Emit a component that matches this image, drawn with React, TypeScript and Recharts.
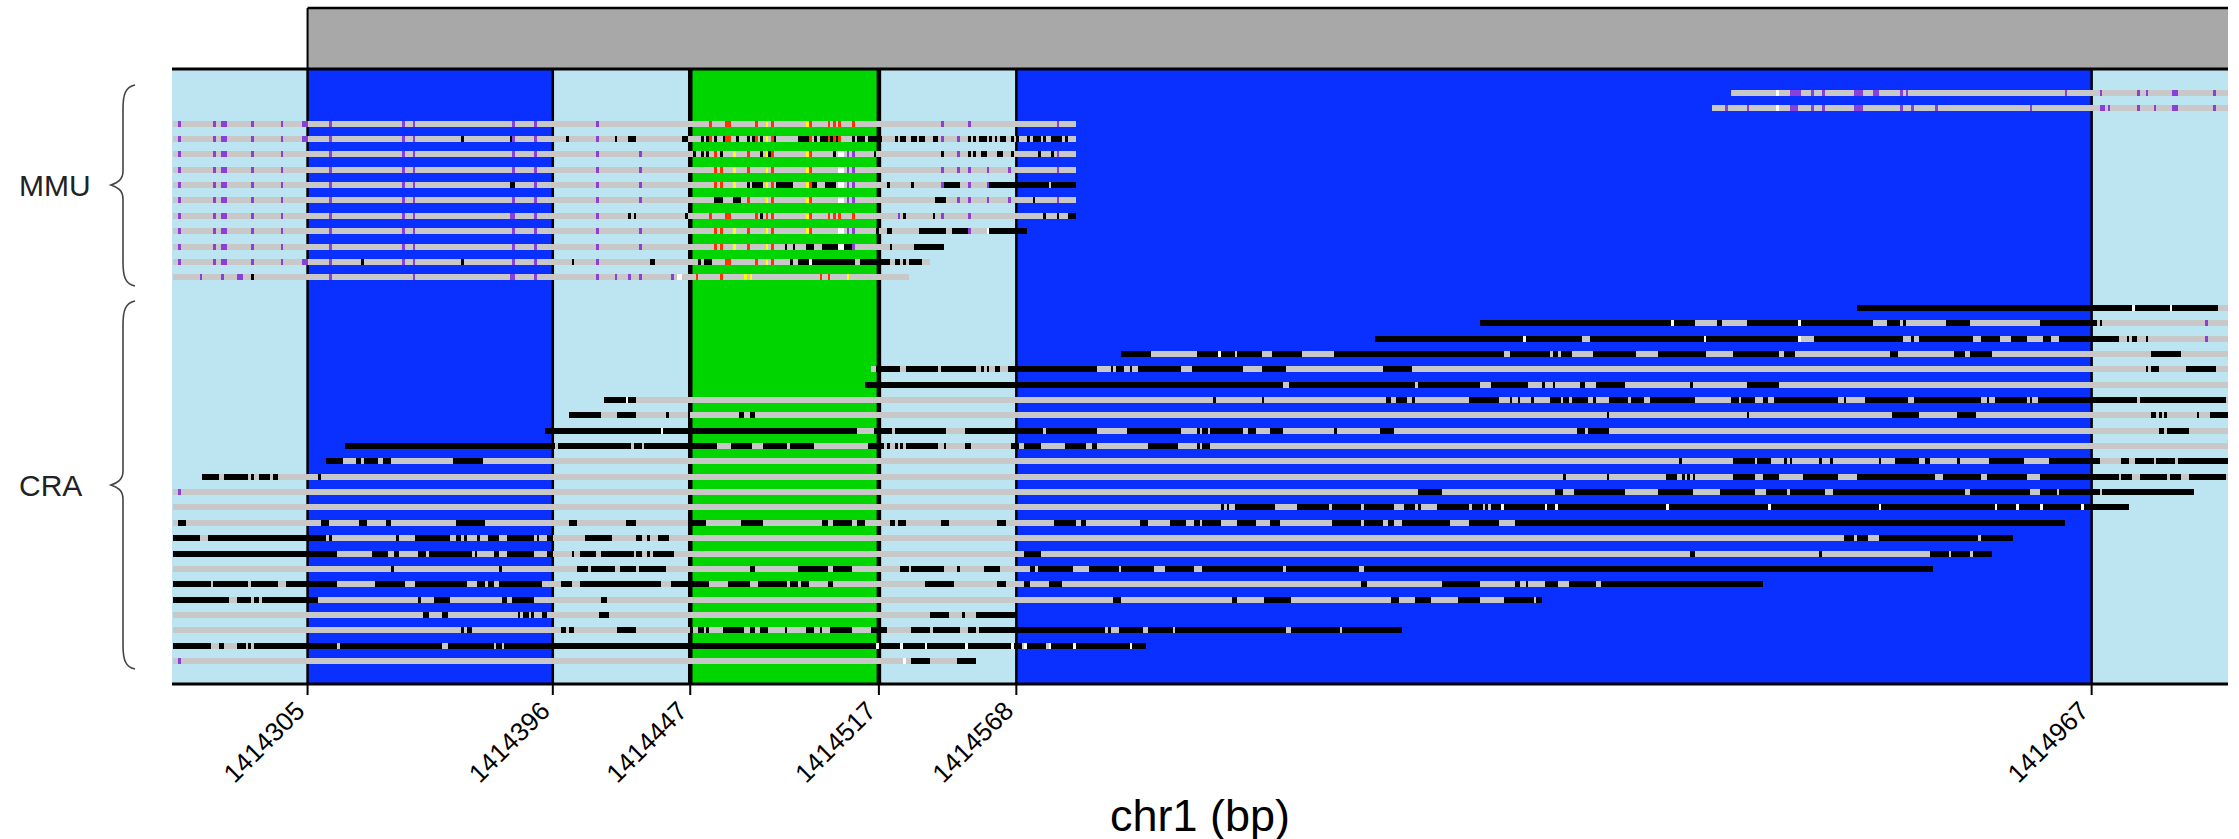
import { ComposedChart, Line, XAxis, YAxis, ReferenceArea, ReferenceLine } from 'recharts';

// genome window, in bp; read data below is offset from CHROM_BASE
const CHROM_BASE = 1414255;
const X_DOMAIN = [1414254.7, 1415017.6];
const Y_DOMAIN = [-5.54, 38.5];
const FLANK_TOP = -1.56;

const exonTicks = [1414305, 1414396, 1414447, 1414517, 1414568, 1414967];
const exonLineWidths = [2.5, 2.5, 4.5, 4.5, 2.5, 2.5];
const groupLabels = ['MMU', 'CRA'];
const groupLabelRows = [6, 25.6];

// one entry per row, top to bottom. Row 13 is the empty gap between the groups
const readSpans = [
  [578, 763], [571, 763],
  [0, 335], [0, 335], [0, 335], [0, 335], [0, 335], [0, 335], [0, 335], [0, 317], [0, 286], [0, 281], [0, 273],
  [],
  [625, 763], [485, 763], [446, 763], [352, 763], [259, 763], [257, 763], [160, 763], [147, 763], [138, 763], [64, 763],
  [57, 763], [11, 763], [0, 750], [0, 726], [0, 702], [0, 683], [0, 675], [0, 653], [0, 590], [0, 508], [0, 313], [0, 456], [0, 361], [0, 298],
];

const blackRuns = [
  [], [],
  [],
  [[107, 108], [125, 126], [146, 147], [164, 165], [169, 171], [171, 172], [189, 191], [196, 197], [198, 199], [201, 202], [204, 205], [209, 210], [213, 214], [215, 216], [218, 219], [223, 224], [232, 236], [238, 239], [240, 243], [244, 245], [246, 247], [252, 253], [254, 257], [258, 263], [268, 269], [270, 272], [274, 276], [277, 279], [282, 284], [295, 296], [297, 298], [299, 302], [303, 304], [305, 306], [307, 309], [311, 312], [313, 314], [317, 318], [319, 322], [323, 324], [326, 330], [331, 332]],
  [[193, 194], [196, 197], [198, 199], [203, 204], [218, 219], [221, 222], [245, 246], [260, 261], [285, 286], [295, 296], [297, 298], [300, 302], [306, 308], [311, 312], [321, 322], [326, 327]],
  [],
  [[125, 127], [213, 214], [215, 219], [224, 230], [237, 239], [242, 246], [265, 266], [274, 275], [286, 292], [303, 325], [326, 335]],
  [[201, 204], [208, 211], [283, 287], [319, 320]],
  [[169, 170], [171, 172], [190, 191], [218, 219], [271, 272], [282, 283], [323, 324], [328, 329], [332, 335]],
  [[261, 262], [265, 267], [277, 287], [289, 295], [303, 317]],
  [[227, 228], [230, 231], [235, 238], [241, 247], [249, 252], [266, 267], [275, 286]],
  [[70, 71], [107, 108], [148, 149], [177, 179], [195, 196], [197, 200], [229, 230], [232, 236], [237, 253], [255, 266], [268, 270], [271, 272], [273, 278]],
  [[29, 30]],
  [],
  [[625, 727], [728, 741], [742, 759]],
  [[485, 556], [557, 565], [573, 575], [584, 603], [604, 631], [636, 641], [642, 643], [658, 667], [693, 714], [715, 716]],
  [[446, 501], [502, 523], [526, 568], [569, 603], [609, 642], [645, 646], [648, 668], [671, 678], [682, 688], [694, 697], [700, 722], [725, 726], [727, 729], [732, 733]],
  [[352, 363], [380, 388], [389, 394], [395, 404], [408, 419], [431, 494], [496, 511], [512, 514], [515, 519], [527, 543], [551, 569], [579, 596], [598, 602], [637, 640], [661, 665], [667, 675], [734, 745]],
  [[261, 270], [272, 284], [285, 298], [300, 301], [302, 303], [305, 307], [310, 343], [348, 349], [350, 353], [355, 356], [358, 374], [378, 397], [404, 413], [449, 460], [732, 733], [734, 737], [747, 758]],
  [[257, 412], [414, 461], [462, 485], [489, 503], [508, 509], [512, 513], [522, 524], [528, 539], [563, 564], [584, 596]],
  [[160, 168], [169, 172], [386, 387], [404, 405], [450, 452], [454, 458], [460, 461], [481, 492], [496, 497], [499, 500], [504, 505], [511, 515], [516, 518], [519, 525], [527, 528], [533, 540], [541, 546], [548, 565], [578, 581], [582, 587], [590, 592], [594, 618], [620, 621], [628, 644], [646, 671], [673, 674], [676, 688], [689, 690], [692, 729], [730, 762]],
  [[147, 159], [165, 172], [183, 184], [191, 192], [210, 212], [214, 216], [532, 533], [584, 585], [638, 648], [662, 669], [734, 736], [737, 738], [739, 740], [751, 752], [756, 763]],
  [[138, 181], [182, 254], [260, 267], [268, 287], [294, 323], [324, 343], [354, 374], [380, 381], [382, 384], [385, 397], [399, 402], [407, 412], [431, 432], [448, 453], [521, 524], [525, 533], [737, 739], [740, 748]],
  [[64, 142], [143, 170], [171, 174], [175, 202], [207, 215], [219, 228], [229, 238], [258, 264], [265, 266], [268, 269], [270, 271], [272, 284], [286, 287], [294, 296], [311, 314], [316, 322], [331, 339], [341, 343], [362, 373], [380, 381], [382, 385]],
  [[57, 63], [68, 70], [71, 76], [78, 81], [104, 115], [559, 560], [579, 587], [588, 593], [598, 599], [600, 601], [611, 612], [615, 616], [633, 634], [639, 648], [650, 652], [662, 663], [674, 687], [696, 715], [723, 726], [728, 735], [736, 743], [744, 763]],
  [[11, 17], [19, 28], [29, 30], [32, 36], [37, 39], [54, 55], [516, 517], [532, 533], [554, 558], [560, 561], [562, 563], [564, 565], [579, 587], [590, 596], [605, 618], [625, 626], [626, 654], [657, 671], [673, 688], [693, 722], [723, 727], [730, 740], [741, 745], [748, 762]],
  [[462, 471], [513, 516], [520, 539], [551, 564], [574, 587], [591, 599], [600, 613], [616, 665], [667, 689], [693, 699], [700, 715], [716, 750]],
  [[389, 390], [391, 392], [394, 409], [417, 429], [430, 441], [442, 453], [457, 461], [462, 463], [469, 481], [482, 486], [487, 488], [489, 493], [494, 509], [510, 513], [514, 554], [555, 592], [593, 633], [634, 676], [677, 684], [685, 693], [694, 708], [709, 726]],
  [[2, 5], [55, 58], [69, 72], [79, 81], [105, 116], [147, 150], [168, 172], [191, 198], [211, 219], [241, 243], [245, 252], [254, 257], [266, 268], [269, 272], [285, 288], [306, 309], [327, 335], [337, 339], [359, 362], [370, 376], [379, 381], [382, 389], [395, 402], [407, 411], [430, 441], [442, 449], [451, 453], [456, 474], [481, 492], [498, 702]],
  [[0, 10], [13, 57], [58, 59], [83, 84], [90, 103], [105, 107], [108, 109], [113, 114], [117, 121], [124, 134], [135, 136], [139, 141], [153, 163], [172, 174], [176, 177], [180, 184], [620, 624], [625, 629], [633, 670], [671, 683]],
  [[0, 61], [74, 80], [82, 84], [91, 94], [95, 111], [112, 113], [119, 121], [124, 134], [139, 141], [148, 149], [151, 157], [159, 171], [172, 174], [176, 177], [178, 186], [316, 322], [563, 565], [611, 612], [652, 659], [660, 667], [668, 675]],
  [[81, 82], [121, 122], [150, 154], [155, 164], [166, 172], [173, 183], [214, 216], [232, 243], [245, 252], [270, 273], [274, 286], [291, 292], [301, 307], [318, 320], [321, 334], [340, 351], [352, 364], [368, 379], [382, 412], [413, 440], [442, 653]],
  [[0, 14], [15, 28], [29, 39], [42, 61], [75, 86], [90, 109], [113, 116], [117, 119], [121, 137], [144, 148], [151, 181], [185, 199], [206, 214], [217, 228], [229, 232], [233, 236], [243, 245], [279, 290], [306, 309], [316, 318], [325, 330], [441, 443], [471, 485], [498, 500], [502, 503], [509, 514], [518, 528], [530, 590]],
  [[0, 21], [24, 29], [30, 32], [33, 54], [91, 92], [97, 103], [122, 124], [126, 134], [159, 161], [349, 352], [393, 395], [405, 406], [406, 415], [452, 455], [461, 462], [462, 467], [477, 485], [494, 505], [506, 508]],
  [[93, 95], [100, 102], [128, 129], [130, 132], [133, 134], [137, 139], [158, 162], [281, 288], [293, 294], [298, 313]],
  [[107, 108], [109, 111], [144, 146], [147, 149], [165, 172], [192, 193], [195, 197], [198, 199], [204, 212], [214, 216], [218, 221], [227, 228], [235, 238], [240, 241], [244, 252], [259, 265], [274, 281], [282, 292], [295, 298], [299, 346], [347, 348], [351, 360], [362, 371], [372, 413], [415, 433], [434, 456]],
  [[0, 14], [17, 19], [24, 27], [28, 29], [30, 61], [62, 100], [102, 119], [120, 122], [123, 261], [262, 270], [271, 279], [280, 294], [295, 311], [312, 315], [317, 324], [326, 334], [335, 355], [356, 361]],
  [[274, 281], [291, 298]],
];

const purpleSites = [
  [600, 601, 602, 603, 608, 612, 624, 625, 626, 631, 632, 641, 643, 702, 715, 729, 732, 742, 743, 757],
  [576, 584, 600, 601, 602, 608, 612, 624, 625, 626, 641, 645, 654, 689, 715, 716, 718, 729, 735, 742, 743, 757],
  [2, 15, 18, 19, 29, 40, 48, 49, 58, 85, 89, 126, 134, 157, 285, 295, 328],
  [2, 15, 18, 19, 29, 40, 48, 49, 58, 85, 89, 126, 134, 157, 285, 291],
  [2, 15, 18, 19, 29, 40, 58, 85, 89, 126, 134, 157, 173, 250, 252, 291, 328],
  [2, 15, 18, 19, 29, 40, 58, 85, 89, 126, 134, 157, 173, 250, 252, 285, 291, 295, 302, 310, 328],
  [2, 15, 18, 19, 29, 40, 58, 85, 89, 134, 157, 173, 250, 252, 285, 295, 302],
  [2, 15, 18, 19, 29, 40, 58, 85, 89, 126, 134, 157, 173, 250, 252, 291, 295, 302, 310, 328],
  [2, 15, 18, 19, 29, 40, 58, 85, 89, 125, 126, 134, 157, 269, 285, 295],
  [2, 15, 18, 19, 29, 40, 58, 85, 89, 126, 134, 157, 173, 250, 252, 295],
  [2, 15, 18, 19, 29, 40, 58, 85, 89, 126, 134, 157, 173, 252],
  [2, 15, 18, 19, 29, 40, 48, 49, 58, 85, 89, 126, 134, 157],
  [10, 18, 24, 25, 58, 89, 125, 126, 134, 157, 164, 169, 173, 185],
  [], [],
  [754], [754], [], [], [], [], [], [], [], [], [],
  [2], [], [], [], [], [], [], [], [], [], [],
  [2],
];

const redSites = [
  [], [],
  [199, 205, 206, 216, 222, 236, 243, 245, 247, 252],
  [199, 205, 206, 216, 222, 236, 243, 245, 247],
  [201, 203, 213, 222, 236],
  [201, 203, 213, 222, 236],
  [201, 203, 222, 236],
  [213, 222, 236],
  [199, 205, 206, 216, 220, 222, 236, 243, 245, 247, 252],
  [201, 203, 213, 222, 236],
  [201, 203, 213, 222],
  [205, 206, 216, 222],
  [194, 203, 240, 243],
];

const yellowSites = [
  [], [],
  [220, 235],
  [220],
  [208, 220, 235],
  [208, 220, 235],
  [208, 220, 235],
  [220, 235],
  [235],
  [208, 220, 235],
  [208, 220],
  [220],
  [212, 214, 250],
];

const whiteSites = [
  [595], [595],
  [], [],
  [247, 248], [247, 248], [247, 248], [247, 248], [], [247, 248, 302], [247, 248], [236], [187, 188],
  [],
  [727, 741],
  [556, 603, 642],
  [501, 568, 603],
  [388], [], [], [168], [], [181], [], [], [], [],
  [493, 509, 513, 554, 592, 633, 676, 684, 693, 708],
  [], [], [], [], [], [], [], [],
  [261, 270, 279, 294, 311, 316, 325, 334, 355],
  [271],
];

// flank / exon bands as chr1 coordinates, left to right
const bandEdges = [X_DOMAIN[0], 1414305, 1414396, 1414447, 1414517, 1414568, 1414967, X_DOMAIN[1]];
const bandColors = ['#BCE4F1', '#0A30FF', '#BCE4F1', '#00D500', '#BCE4F1', '#0A30FF', '#BCE4F1'];

type Pt = { pos: number; row: number | null };

// one path per base state: a null row lifts the pen between runs
function runsToPoints(runsByRow: number[][][]) {
  const pts: Pt[] = [];
  runsByRow.forEach((runs, row) => {
    runs.forEach(([a, b]) => {
      pts.push({ pos: CHROM_BASE + a, row });
      pts.push({ pos: CHROM_BASE + b, row });
      pts.push({ pos: CHROM_BASE + b, row: null });
    });
  });
  return pts;
}

const sitesToRuns = (sites: number[][]) => sites.map((list) => list.map((s) => [s, s + 1]));
const spansToRuns = (spans: number[][]) => spans.map((s) => (s.length ? [s] : []));

const LAYERS = [
  { key: 'read', color: '#C8C8C8', pts: runsToPoints(spansToRuns(readSpans)) },
  { key: 'white', color: '#FFFFFF', pts: runsToPoints(sitesToRuns(whiteSites)) },
  { key: 'purple', color: '#8A3FD9', pts: runsToPoints(sitesToRuns(purpleSites)) },
  { key: 'red', color: '#FF3300', pts: runsToPoints(sitesToRuns(redSites)) },
  { key: 'yellow', color: '#FFFF00', pts: runsToPoints(sitesToRuns(yellowSites)) },
  { key: 'black', color: '#000000', pts: runsToPoints(blackRuns) },
];

const FONT = '"Liberation Sans", Arial, sans-serif';

function brace(top: number, tip: number, bottom: number) {
  const right = 135;
  const spine = 123;
  const point = 111;
  return (
    `M${right} ${top} C${spine + 2} ${top + 2} ${spine} ${top + 10} ${spine} ${top + 24} ` +
    `L${spine} ${tip - 14} C${spine} ${tip - 5} ${point + 6} ${tip - 2} ${point} ${tip} ` +
    `C${point + 6} ${tip + 2} ${spine} ${tip + 5} ${spine} ${tip + 14} ` +
    `L${spine} ${bottom - 24} C${spine} ${bottom - 10} ${spine + 2} ${bottom - 2} ${right} ${bottom}`
  );
}

function ExonTick({ x, y, payload }: any) {
  const tx = x - 15;
  const ty = y + 2;
  return (
    <text
      x={tx}
      y={ty}
      transform={`rotate(-45 ${tx} ${ty})`}
      textAnchor="end"
      dominantBaseline="hanging"
      fontSize={26}
      fontFamily={FONT}
      fill="#000"
    >
      {payload.value}
    </text>
  );
}

function GroupTick({ y, index }: any) {
  return (
    <text x={19} y={y} dominantBaseline="central" fontSize={30} fontFamily={FONT} fill="#222">
      {groupLabels[index]}
    </text>
  );
}

export default function App() {
  return (
    <div style={{ position: 'absolute', left: 0, top: 0, width: 2239, height: 839, background: '#fff' }}>
      <ComposedChart width={2239} height={839} margin={{ top: 8, right: 11, bottom: 0, left: 0 }}>
        <XAxis
          dataKey="pos"
          type="number"
          domain={X_DOMAIN}
          allowDataOverflow
          ticks={exonTicks}
          interval={0}
          height={155}
          tickSize={11}
          tickMargin={2}
          tick={<ExonTick />}
          tickLine={{ stroke: '#000', strokeWidth: 2 }}
          axisLine={{ stroke: '#000', strokeWidth: 3 }}
          label={{
            value: 'chr1 (bp)',
            position: 'insideBottom',
            offset: 0,
            dy: -8,
            style: { fontSize: 45, fontFamily: FONT, fill: '#000' },
          }}
        />
        <YAxis
          type="number"
          dataKey="row"
          reversed
          domain={Y_DOMAIN}
          allowDataOverflow
          width={172}
          ticks={groupLabelRows}
          interval={0}
          tick={<GroupTick />}
          tickLine={false}
          axisLine={false}
        />
        <ReferenceArea
          x1={exonTicks[0]}
          x2={X_DOMAIN[1]}
          y1={Y_DOMAIN[0]}
          y2={FLANK_TOP}
          fill="#A8A8A8"
          fillOpacity={1}
          stroke="none"
        />
        <ReferenceLine
          segment={[{ x: exonTicks[0], y: Y_DOMAIN[0] }, { x: X_DOMAIN[1], y: Y_DOMAIN[0] }]}
          stroke="#000"
          strokeWidth={2.5}
        />
        <ReferenceLine
          segment={[{ x: exonTicks[0], y: Y_DOMAIN[0] }, { x: exonTicks[0], y: FLANK_TOP }]}
          stroke="#000"
          strokeWidth={2}
        />
        {bandColors.map((color, i) => (
          <ReferenceArea
            key={i}
            x1={bandEdges[i]}
            x2={bandEdges[i + 1]}
            y1={FLANK_TOP}
            y2={Y_DOMAIN[1]}
            fill={color}
            fillOpacity={1}
            stroke="none"
          />
        ))}
        <ReferenceLine y={FLANK_TOP} stroke="#000" strokeWidth={3} />
        {exonTicks.map((t, i) => (
          <ReferenceLine
            key={t}
            segment={[{ x: t, y: FLANK_TOP }, { x: t, y: Y_DOMAIN[1] }]}
            stroke="#000"
            strokeWidth={exonLineWidths[i]}
          />
        ))}
        {LAYERS.map((layer) => (
          <Line
            key={layer.key}
            data={layer.pts}
            dataKey="row"
            stroke={layer.color}
            strokeWidth={6}
            strokeLinecap="butt"
            strokeLinejoin="miter"
            shapeRendering="crispEdges"
            dot={false}
            activeDot={false}
            legendType="none"
            type="linear"
            isAnimationActive={false}
          />
        ))}
        <path d={brace(85, 185, 286)} fill="none" stroke="#444" strokeWidth={1.6} />
        <path d={brace(301, 485, 669)} fill="none" stroke="#444" strokeWidth={1.6} />
      </ComposedChart>
    </div>
  );
}
